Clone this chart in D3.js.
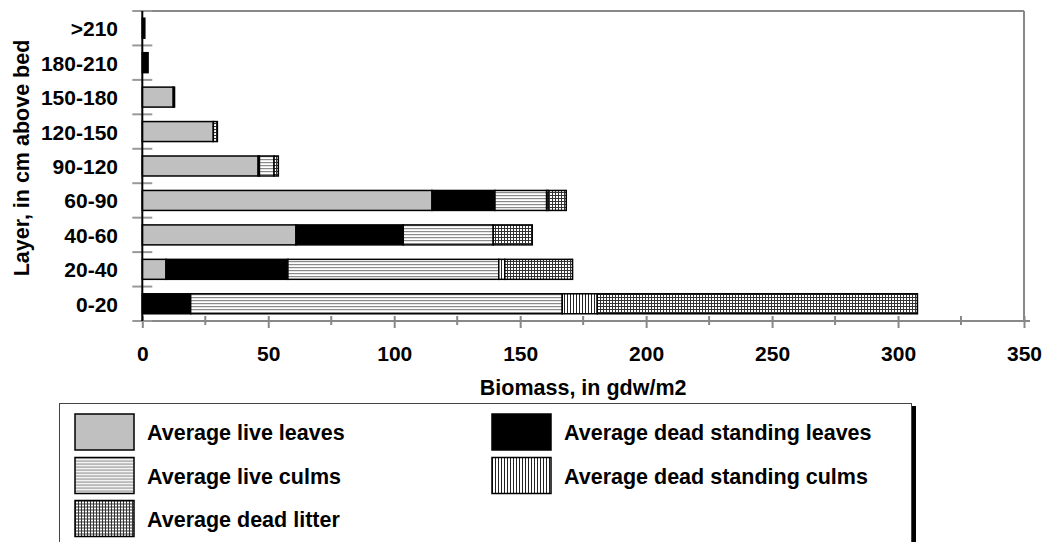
<!DOCTYPE html>
<html><head><meta charset="utf-8">
<script src="https://cdn.jsdelivr.net/npm/d3@7"></script>
<style>
html,body{margin:0;padding:0;background:#fff;}
text{font-family:"Liberation Sans",Arial,sans-serif;font-weight:bold;fill:#000;}
</style></head>
<body><svg id="c" width="1049" height="542"></svg>
<script>
const categories = ["0-20","20-40","40-60","60-90","90-120","120-150","150-180","180-210",">210"];
const liveLeaves = [0, 9.4, 61.0, 115.0, 46.0, 28.2, 12.3, 0, 0];
const deadLeaves = [19.2, 48.4, 42.6, 25.0, 0.5, 0, 0, 2.3, 1.0];
const liveCulms  = [147.5, 83.7, 35.7, 20.5, 5.8, 0, 0, 0, 0];
const deadCulms  = [13.9, 2.4, 0, 0.6, 0, 0, 0, 0, 0];
const litter     = [127.1, 26.9, 15.5, 7.2, 1.7, 1.6, 0.5, 0, 0];
const seriesNames = ["Average live leaves","Average dead standing leaves","Average live culms","Average dead standing culms","Average dead litter"];
const xTicks = [0,50,100,150,200,250,300,350];

const keys = ["ll","dl","lc","dc","lit"];
const rows = categories.map((c,i)=>({cat:c, ll:liveLeaves[i], dl:deadLeaves[i], lc:liveCulms[i], dc:deadCulms[i], lit:litter[i]}));

const svg = d3.select("#c");
const defs = svg.append("defs");
const p1 = defs.append("pattern").attr("id","hz").attr("patternUnits","userSpaceOnUse").attr("width",4).attr("height",3);
p1.append("rect").attr("width",4).attr("height",3).attr("fill","#fff");
p1.append("rect").attr("y",0).attr("width",4).attr("height",1.2).attr("fill","#8a8a8a");
const p2 = defs.append("pattern").attr("id","vt").attr("patternUnits","userSpaceOnUse").attr("width",3).attr("height",4);
p2.append("rect").attr("width",3).attr("height",4).attr("fill","#fff");
p2.append("rect").attr("x",0).attr("width",1).attr("height",4).attr("fill","#222");
const p3 = defs.append("pattern").attr("id","gr").attr("patternUnits","userSpaceOnUse").attr("width",3).attr("height",3);
p3.append("rect").attr("width",3).attr("height",3).attr("fill","#fff");
p3.append("rect").attr("width",3).attr("height",1).attr("fill","#333");
p3.append("rect").attr("width",1).attr("height",3).attr("fill","#333");

const fills = {ll:"#c0c0c0", dl:"#000", lc:"url(#hz)", dc:"url(#vt)", lit:"url(#gr)"};

const L=142.3, R=1024, T=11, B=321;
const x = d3.scaleLinear().domain([0,350]).range([L,R]);
const y = d3.scaleBand().domain(categories.slice().reverse()).range([T,B]).paddingInner(0.42).paddingOuter(0.21);

svg.append("line").attr("x1",L).attr("x2",R).attr("y1",T).attr("y2",T).attr("stroke","#888").attr("stroke-width",2);
svg.append("line").attr("x1",R).attr("x2",R).attr("y1",T).attr("y2",B).attr("stroke","#888").attr("stroke-width",2);

const xa = svg.append("g").attr("transform",`translate(0,${B})`)
  .call(d3.axisBottom(x).tickValues(xTicks).tickSize(7).tickPadding(18).tickFormat(d3.format("d")));
xa.select(".domain").attr("stroke","#888").attr("stroke-width",2).attr("d",`M${L},0H${R+6}`);
xa.selectAll(".tick line").attr("stroke","#888").attr("stroke-width",2).attr("y1",-5);
xa.selectAll(".tick text").style("font-size","21px").style("font-family","'Liberation Sans',Arial,sans-serif").style("font-weight","bold").attr("fill","#000");
const minor = d3.range(25,350,50);
svg.append("g").selectAll("line").data(minor).join("line")
  .attr("x1",d=>x(d)).attr("x2",d=>x(d)).attr("y1",B-5).attr("y2",B+4).attr("stroke","#888").attr("stroke-width",2);

const bounds = d3.range(categories.length+1).map(i=>T+i*(B-T)/categories.length);
svg.append("g").selectAll("line").data(bounds).join("line")
  .attr("x1",L-10).attr("x2",L+10).attr("y1",d=>d).attr("y2",d=>d).attr("stroke","#999").attr("stroke-width",2);

svg.append("g").selectAll("text").data(categories).join("text")
  .attr("x",118).attr("y",d=>y(d)+y.bandwidth()/2+8).attr("text-anchor","end").style("font-size","21px").text(d=>d);

const stack = d3.stack().keys(keys)(rows);
stack.forEach(s=>{
  svg.append("g").selectAll("rect").data(s.filter(d=>d[1]-d[0]>0)).join("rect")
    .attr("x",d=>x(d[0])).attr("width",d=>x(d[1])-x(d[0]))
    .attr("y",d=>y(d.data.cat)).attr("height",y.bandwidth())
    .attr("fill",fills[s.key]).attr("stroke","#000").attr("stroke-width",1.5);
});

svg.append("line").attr("x1",L).attr("x2",L).attr("y1",T).attr("y2",B).attr("stroke","#000").attr("stroke-width",2);

svg.append("text").attr("x",(L+R)/2).attr("y",395).attr("text-anchor","middle").style("font-size","21.5px").text("Biomass, in gdw/m2");
svg.append("text").attr("transform","translate(29,158) rotate(-90)").attr("text-anchor","middle").style("font-size","21.5px").text("Layer, in cm above bed");

svg.append("rect").attr("x",912).attr("y",406).attr("width",4).attr("height",200).attr("fill","#000");
svg.append("rect").attr("x",59.5).attr("y",403.5).attr("width",852).attr("height",200).attr("fill","#fff").attr("stroke","#444").attr("stroke-width",1);
const legPos = [[75,414],[492,414],[75,457.5],[492,457.5],[75,500.5]];
const leg = svg.append("g").selectAll("g").data(keys).join("g").attr("transform",(d,i)=>`translate(${legPos[i][0]},${legPos[i][1]})`);
leg.append("rect").attr("width",59).attr("height",36).attr("fill",d=>fills[d]).attr("stroke","#000").attr("stroke-width",1.5);
leg.append("text").attr("x",72).attr("y",26).style("font-size","21.5px").text((d,i)=>seriesNames[i]);
</script></body></html>
